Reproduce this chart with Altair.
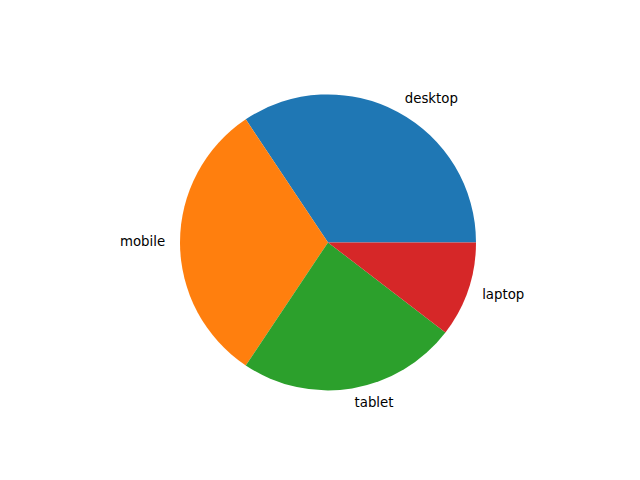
import math
import altair as alt
import pandas as pd

labels = ["desktop", "mobile", "tablet", "laptop"]
values = [33, 30, 23, 10]
colors = ["#1f77b4", "#ff7f0e", "#2ca02c", "#d62728"]

df = pd.DataFrame({"device": labels, "share": values, "idx": list(range(len(labels)))})
total = sum(values)

theta_scale = alt.Scale(domain=[0, total], range=[2.5 * math.pi, 0.5 * math.pi])

CX, CY, R = 328, 242.4, 148

base = alt.Chart(df)

pie = base.mark_arc(radius=R).encode(
    theta=alt.Theta("share:Q", stack=True, scale=theta_scale),
    color=alt.Color("device:N", scale=alt.Scale(domain=labels, range=colors), legend=None),
    order=alt.Order("idx:Q"),
    x=alt.value(CX),
    y=alt.value(CY),
)

lab = base.transform_window(
    cum="sum(share)", sort=[alt.SortField("idx")]
).transform_calculate(
    mid="datum.cum - datum.share / 2",
    frac=f"(datum.cum - datum.share / 2) / {total}",
)

def text_layer(flt, align):
    return lab.transform_filter(flt).mark_text(
        radius=R * 1.1, align=align, baseline="middle",
        font="DejaVu Sans", fontSize=13.33, color="black",
    ).encode(
        theta=alt.Theta("mid:Q", stack=None, scale=theta_scale),
        text="device:N",
        x=alt.value(CX),
        y=alt.value(CY),
    )

right = text_layer("datum.frac < 0.25 || datum.frac > 0.75", "left")
left = text_layer("datum.frac >= 0.25 && datum.frac <= 0.75", "right")

chart = alt.layer(pie, right, left).properties(
    width=640, height=480, padding=0, autosize="none", background="white"
).configure_view(stroke=None)

chart.save("out.html", embed_options={"renderer": "svg", "actions": False})
